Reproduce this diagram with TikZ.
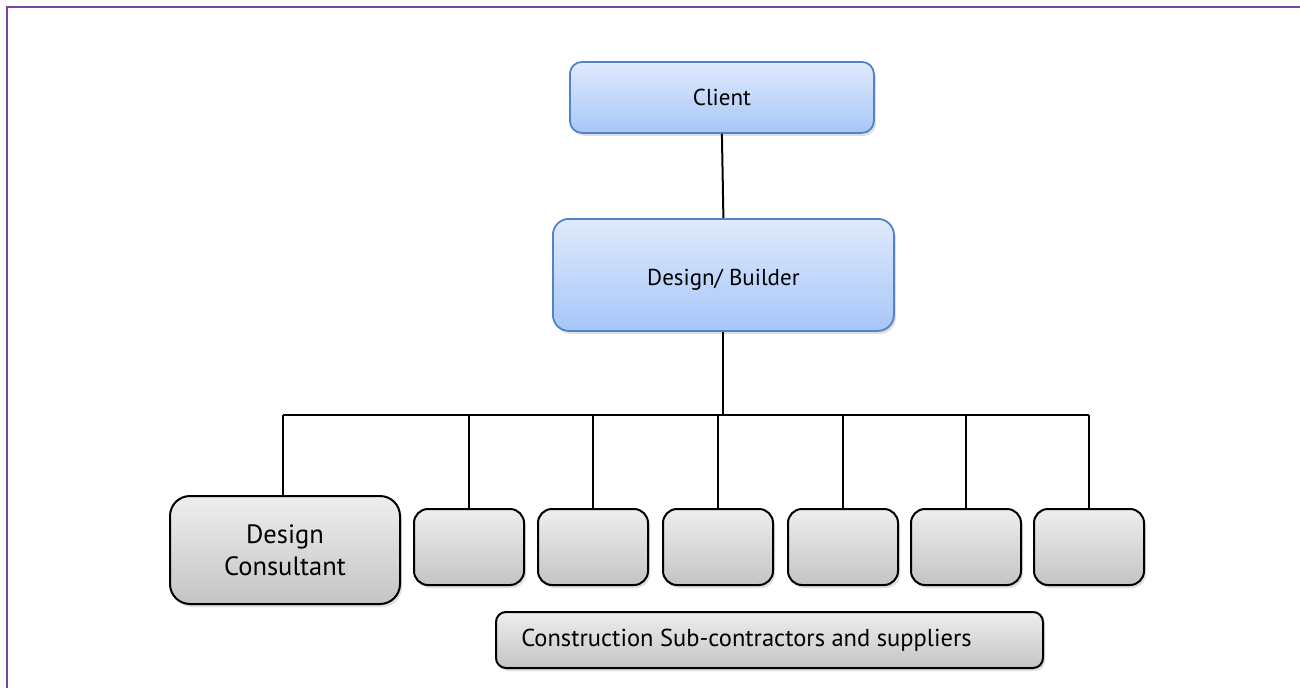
\documentclass[tikz,border=0pt]{standalone}
\usepackage{fontspec}
\setmainfont{PT Sans}
\usetikzlibrary{shadows}
\definecolor{frame}{RGB}{128,66,160}
\definecolor{bluedraw}{RGB}{84,130,200}
\definecolor{bluetop}{RGB}{224,234,252}
\definecolor{bluebot}{RGB}{166,198,248}
\definecolor{graytop}{RGB}{238,238,238}
\definecolor{graybot}{RGB}{196,196,196}
\tikzset{
  bluebox/.style={draw=bluedraw, line width=1.8pt, top color=bluetop, bottom color=bluebot,
    rounded corners=12pt, inner sep=0pt, anchor=north west,
    drop shadow={shadow xshift=2pt, shadow yshift=-3pt, opacity=0.25}},
  graybox/.style={draw=black, line width=2pt, top color=graytop, bottom color=graybot,
    rounded corners=14pt, inner sep=0pt, anchor=north west, align=center,
    drop shadow={shadow xshift=2pt, shadow yshift=-3pt, opacity=0.25}},
  conn/.style={draw=black, line width=2pt}
}
\begin{document}
\begin{tikzpicture}[x=1pt,y=1pt]
\useasboundingbox (0,0) rectangle (1300,-688);
\draw[frame, line width=2.5pt] (7,-688) -- (7,-7) -- (1300,-7);
% top nodes
\node[bluebox, minimum width=304pt, minimum height=71pt, font=\fontsize{23}{27}\selectfont] (client) at (569,-61) {Client};
\node[bluebox, rounded corners=16pt, minimum width=341pt, minimum height=112pt, font=\fontsize{23}{27}\selectfont] (db) at (552,-218) {\rule{0pt}{26pt}Design/ Builder};
% bottom nodes
\node[graybox, rounded corners=20pt, minimum width=230pt, minimum height=108pt, font=\fontsize{26.5}{32}\selectfont] (dc) at (169,-495) {Design\\Consultant};
\node[graybox, minimum width=110pt, minimum height=76pt] (s1) at (413,-508) {};
\node[graybox, minimum width=110pt, minimum height=76pt] (s2) at (537,-508) {};
\node[graybox, minimum width=110pt, minimum height=76pt] (s3) at (662,-508) {};
\node[graybox, minimum width=110pt, minimum height=76pt] (s4) at (787,-508) {};
\node[graybox, minimum width=110pt, minimum height=76pt] (s5) at (910,-508) {};
\node[graybox, minimum width=110pt, minimum height=76pt] (s6) at (1033,-508) {};
\node[graybox, rounded corners=10pt, minimum width=547pt, minimum height=56pt, font=\fontsize{24.5}{29}\selectfont] (cs) at (495,-611) {Construction Sub-contractors and suppliers\hspace*{46pt}};
% connectors
\coordinate (busL) at (283,-415);
\coordinate (busR) at (s6.north |- busL);
\coordinate (busM) at (db.south |- busL);
\draw[conn] (client.south) -- (db.north);
\draw[conn] (db.south) -- (busM);
\draw[conn] (busL) -- (busR);
\draw[conn] (busL) -- (busL |- dc.north);
\foreach \n in {s1,s2,s3,s4,s5,s6}{
  \draw[conn] (\n.north |- busL) -- (\n.north);
}
\end{tikzpicture}
\end{document}
